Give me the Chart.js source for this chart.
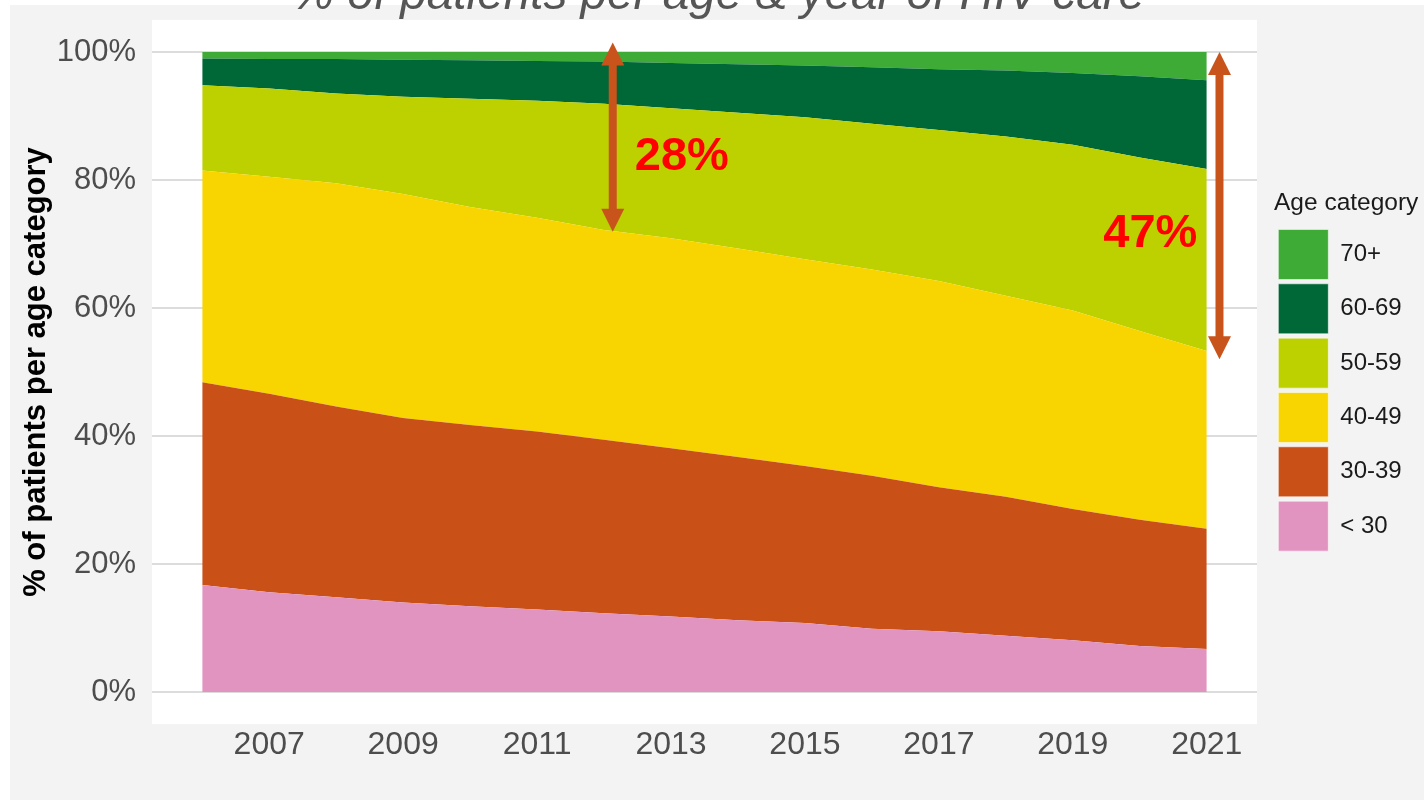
<!DOCTYPE html>
<html>
<head>
<meta charset="utf-8">
<title>% of patients per age &amp; year of HIV care</title>
<script src="https://cdn.jsdelivr.net/npm/chart.js@4.4.1/dist/chart.umd.min.js"></script>
<style>
  html, body { margin: 0; padding: 0; width: 1424px; height: 800px; background: #ffffff; overflow: hidden; }
  #backdrop { position: absolute; left: 10px; top: 5px; right: 0; bottom: 0; background: #f3f3f3; }
  /* canvas sits a bit above the page so the title is cut like in the slide */
  #wrap { position: absolute; left: 0; top: -40px; width: 1424px; height: 840px; }
</style>
</head>
<body>
<div id="backdrop"></div>
<div id="wrap"><canvas id="ageChart" width="1424" height="840"></canvas></div>
<script>
// years of HIV care
const years = [2006, 2007, 2008, 2009, 2010, 2011, 2012, 2013, 2014, 2015, 2016, 2017, 2018, 2019, 2020, 2021];

// % of patients per age category
const under30   = [16.7, 15.6, 14.8, 14.0, 13.4, 12.9, 12.3, 11.8, 11.2, 10.8, 9.9, 9.5, 8.8, 8.1, 7.2, 6.7];
const age30to39 = [31.7, 31.0, 29.8, 28.8, 28.3, 27.8, 27.1, 26.3, 25.5, 24.5, 23.9, 22.5, 21.7, 20.5, 19.7, 18.8];
const age40to49 = [33.1, 33.9, 34.9, 35.0, 34.1, 33.4, 32.8, 32.8, 32.6, 32.3, 32.2, 32.2, 31.4, 31.0, 29.5, 27.8];
const age50to59 = [13.3, 13.8, 14.0, 15.2, 16.9, 18.3, 19.7, 20.3, 21.2, 22.2, 22.8, 23.6, 24.9, 25.9, 27.1, 28.4];
const age60to69 = [4.2, 4.6, 5.4, 5.8, 6.0, 6.2, 6.6, 7.1, 7.6, 8.1, 8.8, 9.5, 10.3, 11.2, 12.7, 13.9];
const age70plus = [1.0, 1.1, 1.1, 1.2, 1.3, 1.4, 1.5, 1.7, 1.9, 2.1, 2.4, 2.7, 2.9, 3.3, 3.8, 4.4];

const ageLabels = ['< 30', '30-39', '40-49', '50-59', '60-69', '70+'];
const tickYears = [2007, 2009, 2011, 2013, 2015, 2017, 2019, 2021];
const percentTicks = [0, 20, 40, 60, 80, 100];

const ageColors = ['#e294c1', '#c95118', '#f8d500', '#bdd000', '#006837', '#3dab35'];
const arrowColor = '#c8541c';
const fontFamily = '"Liberation Sans", Arial, sans-serif';

// arrows showing the share of 50+ patients
const callouts = [
    { year: 2012, arrowX: 2012.13, arrowTop: 101.5, arrowBottom: 71.9, labelX: 2012.46, labelY: 83.6, align: 'left' },
    { year: 2021, arrowX: 2021.19, arrowTop: 100.0, arrowBottom: 52.0, labelX: 2020.86, labelY: 71.5, align: 'right' }
];

Chart.defaults.font.family = fontFamily;

// white panel behind the plot, like ggplot
const panelBackground = {
    id: 'panelBackground',
    beforeDraw(chart) {
        const { ctx, chartArea } = chart;
        ctx.save();
        ctx.fillStyle = '#ffffff';
        ctx.fillRect(chartArea.left, chartArea.top, chartArea.right - chartArea.left, chartArea.bottom - chartArea.top);
        ctx.restore();
    }
};

// legend is clipped to its box, let it run to the canvas edge so the title fits
const legendRoom = {
    id: 'legendRoom',
    afterLayout(chart) {
        const lg = chart.legend;
        if (lg) {
            lg.right = chart.width;
            lg.width = lg.right - lg.left;
        }
    }
};

const calloutArrows = {
    id: 'calloutArrows',
    afterDatasetsDraw(chart) {
        const { ctx, scales: { x, y } } = chart;
        const head = 23;
        const half = 11.5;
        ctx.save();
        callouts.forEach(c => {
            const px = x.getPixelForValue(c.arrowX);
            const top = y.getPixelForValue(c.arrowTop);
            const bottom = y.getPixelForValue(c.arrowBottom);

            ctx.strokeStyle = arrowColor;
            ctx.lineWidth = 8;
            ctx.beginPath();
            ctx.moveTo(px, top + head - 2);
            ctx.lineTo(px, bottom - head + 2);
            ctx.stroke();

            ctx.fillStyle = arrowColor;
            ctx.beginPath();
            ctx.moveTo(px, top);
            ctx.lineTo(px - half, top + head);
            ctx.lineTo(px + half, top + head);
            ctx.closePath();
            ctx.fill();
            ctx.beginPath();
            ctx.moveTo(px, bottom);
            ctx.lineTo(px - half, bottom - head);
            ctx.lineTo(px + half, bottom - head);
            ctx.closePath();
            ctx.fill();

            // label = share of patients aged 50 and over that year
            const i = years.indexOf(c.year);
            const share = Math.round(age50to59[i] + age60to69[i] + age70plus[i]);
            ctx.font = 'bold 47px ' + fontFamily;
            ctx.fillStyle = '#ff0000';
            ctx.textAlign = c.align;
            ctx.textBaseline = 'middle';
            ctx.fillText(share + '%', x.getPixelForValue(c.labelX), y.getPixelForValue(c.labelY));
        });
        ctx.restore();
    }
};

const seriesList = [under30, age30to39, age40to49, age50to59, age60to69, age70plus];

const datasets = seriesList.map((values, k) => ({
    label: ageLabels[k],
    data: years.map((yr, i) => ({ x: yr, y: values[i] })),
    xAxisID: 'x',
    yAxisID: 'y',
    backgroundColor: ageColors[k],
    borderColor: 'rgba(0,0,0,0)',
    borderWidth: 0,
    pointRadius: 0,
    pointHoverRadius: 0,
    tension: 0,
    fill: k === 0 ? 'origin' : '-1'
}));

const ageChart = new Chart(document.getElementById('ageChart').getContext('2d'), {
    type: 'line',
    data: { datasets: datasets },
    options: {
        responsive: false,
        animation: false,
        devicePixelRatio: 1,
        layout: { padding: { left: 25, right: 12.3, top: 0, bottom: 0 } },
        plugins: {
            title: {
                display: true,
                text: '% of patients per age & year of HIV care',
                color: '#555555',
                font: { size: 47.7, style: 'italic', weight: 'normal', lineHeight: 1 },
                padding: { top: 12.3, bottom: 0 }
            },
            legend: {
                position: 'right',
                fullSize: false,
                reverse: true,
                align: 'center',
                title: {
                    display: true,
                    text: 'Age category',
                    position: 'start',
                    color: '#1a1a1a',
                    font: { size: 24.5, lineHeight: 1.2 },
                    padding: { top: 2.5, bottom: 4.7 }
                },
                labels: {
                    boxWidth: 50,
                    boxHeight: 50,
                    padding: 4.33,
                    color: '#1a1a1a',
                    font: { size: 24 },
                    generateLabels: chart => {
                        const items = Chart.defaults.plugins.legend.labels.generateLabels(chart);
                        items.forEach(item => {
                            item.lineWidth = 1;
                            item.strokeStyle = 'rgba(255,255,255,0.55)';
                        });
                        return items;
                    }
                }
            },
            tooltip: { enabled: false }
        },
        scales: {
            x: {
                type: 'linear',
                min: 2005.25,
                max: 2021.75,
                grid: { display: false, drawTicks: false },
                border: { display: false },
                afterBuildTicks: scale => { scale.ticks = tickYears.map(v => ({ value: v })); },
                afterFit: scale => { scale.height = 76; },
                ticks: {
                    color: '#4d4d4d',
                    font: { size: 32 },
                    padding: 2.2,
                    maxRotation: 0,
                    autoSkip: false,
                    callback: v => String(v)
                }
            },
            y: {
                type: 'linear',
                stacked: true,
                min: -5,
                max: 105,
                grid: { color: '#dcdcdc', lineWidth: 2, drawTicks: false },
                border: { display: false },
                afterBuildTicks: scale => { scale.ticks = percentTicks.map(v => ({ value: v })); },
                afterFit: scale => { scale.width = 127; },
                ticks: {
                    color: '#4d4d4d',
                    font: { size: 31 },
                    padding: 16,
                    callback: v => v + '%'
                },
                title: {
                    display: true,
                    text: '% of patients per age category',
                    color: '#000000',
                    font: { size: 31, weight: 'bold', lineHeight: 0.75 },
                    padding: 0
                }
            },
            // empty axis, only keeps the gap between panel and legend
            gap: {
                type: 'linear',
                position: 'right',
                display: true,
                grid: { display: false, drawTicks: false },
                border: { display: false },
                ticks: { display: false },
                afterFit: scale => { scale.width = 17; }
            }
        }
    },
    plugins: [panelBackground, legendRoom, calloutArrows]
});
</script>
</body>
</html>
